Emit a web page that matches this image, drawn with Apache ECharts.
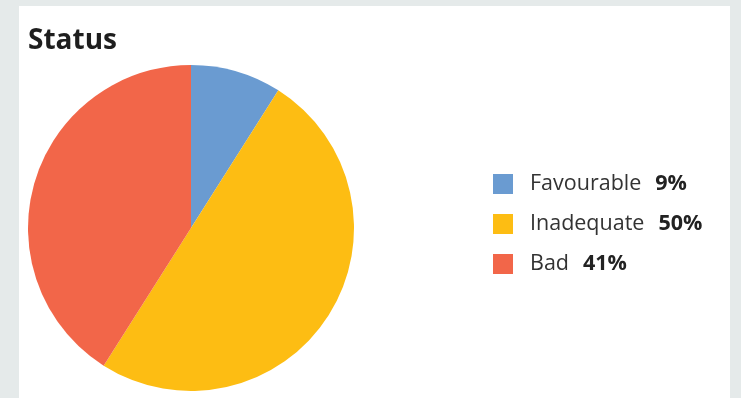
<!DOCTYPE html>
<html>
<head>
<meta charset="utf-8">
<script src="https://cdn.jsdelivr.net/npm/echarts@6/dist/echarts.min.js"></script>
<style>
html,body{margin:0;padding:0;background:#e5eaea;}
#c{width:741px;height:398px;}
</style>
</head>
<body>
<div id="c"></div>
<script>
var categories = ['Favourable', 'Inadequate', 'Bad'];
var values = [9, 50, 41];
var colors = ['#6a9bd1', '#fdbd13', '#f26649'];

var chart = echarts.init(document.getElementById('c'), null, {renderer: 'canvas'});
var data = categories.map(function (c, i) {
  return {name: c, value: values[i], itemStyle: {color: colors[i]}};
});
chart.setOption({
  backgroundColor: '#e5eaea',
  animation: false,
  graphic: [{
    type: 'rect', z: -10, silent: true,
    shape: {x: 19, y: 6, width: 711, height: 400},
    style: {fill: '#ffffff'}
  }],
  title: {
    text: 'Status', left: 23, top: 22,
    textStyle: {fontFamily: 'Open Sans', fontWeight: 'bold', fontSize: 28, color: '#1e1e1e'}
  },
  legend: {
    orient: 'vertical', left: 493, top: 173, padding: 0,
    icon: 'rect', itemWidth: 20, itemHeight: 20, itemGap: 18,
    data: categories,
    formatter: function (name) {
      var i = categories.indexOf(name);
      return '{n|' + name + '}{p|' + values[i] + '%}';
    },
    textStyle: {
      padding: [0, 0, 0, 12],
      lineHeight: 20,
      rich: {
        n: {fontFamily: 'Open Sans', fontSize: 21.5, lineHeight: 20, color: '#333333', padding: [0, 14, 0, 0]},
        p: {fontFamily: 'Open Sans', fontSize: 21.5, lineHeight: 20, fontWeight: 'bold', color: '#222222'}
      }
    }
  },
  series: [{
    type: 'pie',
    center: [191, 228],
    radius: [0, 163],
    startAngle: 90,
    clockwise: true,
    label: {show: false},
    labelLine: {show: false},
    emphasis: {disabled: true},
    itemStyle: {borderWidth: 0},
    data: data
  }]
});
</script>
</body>
</html>
